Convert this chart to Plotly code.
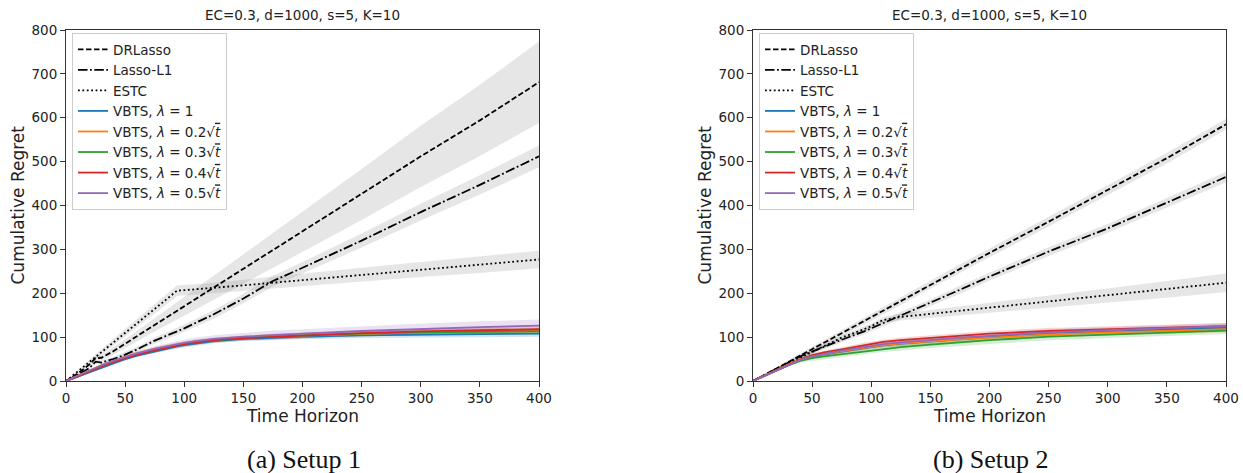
import plotly.graph_objects as go

# ---------------- data ----------------
T = [0, 10, 20, 25, 30, 40, 50, 60, 75, 94, 100, 110, 125, 150, 175, 200, 250, 300, 350, 400]

# Setup 1
DR1 = [0, 17, 38, 52, 53, 68, 85, 102, 128, 160, 170, 187, 213, 256, 298, 340, 425, 512, 594, 681]
DR1_hw = [0, 2, 4, 5, 6, 8, 10, 12, 15, 20, 22, 25, 28, 34, 40, 46, 58, 70, 81, 93]
LASSO1 = [0, 14, 30, 44, 42, 50, 60, 72, 92, 113, 120, 133, 152, 188, 228, 258, 320, 385, 447, 512]
LASSO1_hw = [0, 2, 3, 4, 4, 5, 6, 6, 7, 8, 9, 9, 10, 11, 12, 13, 16, 19, 22, 25]
ESTC1 = [0, 22, 44, 55, 66, 88, 110, 132, 165, 206, 207, 209, 212, 218, 224, 230, 242, 254, 265, 277]
ESTC1_hw = [0, 3, 5, 6, 7, 8, 9, 10, 11, 12, 12, 12, 12, 13, 14, 14, 16, 17, 19, 20]
VB1_1 = [0, 10, 21, 26, 31, 41, 50, 58, 68, 79, 82, 86, 91, 96, 99, 101, 104, 106, 107, 108]
VB1_2 = [0, 12, 25, 31, 36, 46, 55, 63, 73, 83, 86, 90, 94, 99, 102, 104, 108, 111, 113, 114]
VB1_3 = [0, 11, 23, 29, 34, 44, 53, 61, 71, 82, 85, 89, 93, 98, 101, 104, 108, 111, 112, 113]
VB1_4 = [0, 10, 22, 28, 33, 43, 52, 60, 70, 81, 84, 88, 93, 98, 101, 103, 109, 113, 116, 118]
VB1_5 = [0, 12, 25, 31, 36, 46, 55, 63, 73, 84, 87, 91, 96, 101, 105, 108, 114, 119, 123, 126]
VB1_hw = [0, 1, 2, 2, 3, 3, 4, 4, 5, 5, 5, 5, 5, 5, 6, 6, 6, 6, 7, 7]
VB1_5_hw = [0, 1, 2, 3, 3, 4, 5, 5, 6, 7, 7, 8, 8, 9, 10, 10, 11, 12, 13, 14]

# Setup 2
DR2 = [0, 14, 28, 36, 43, 58, 72, 87, 109, 137, 146, 160, 182, 220, 256, 292, 363, 435, 508, 585]
DR2_hw = [0, 2, 3, 3, 4, 5, 6, 6, 7, 8, 8, 8, 9, 9, 10, 10, 11, 11, 12, 12]
LASSO2 = [0, 14, 28, 35, 42, 56, 67, 78, 94, 113, 120, 131, 150, 178, 208, 238, 295, 348, 406, 465]
LASSO2_hw = [0, 2, 3, 3, 4, 4, 5, 5, 6, 7, 7, 7, 8, 8, 9, 9, 10, 10, 11, 12]
ESTC2 = [0, 13, 27, 33, 40, 53, 66, 79, 99, 118, 125, 139, 146, 153, 160, 167, 181, 195, 209, 224]
ESTC2_hw = [0, 1, 2, 3, 3, 4, 4, 5, 5, 6, 6, 7, 8, 9, 10, 11, 14, 16, 19, 21]
VB2_1 = [0, 12, 25, 31, 37, 48, 55, 61, 67, 75, 78, 81, 85, 90, 95, 100, 108, 113, 117, 121]
VB2_2 = [0, 13, 26, 32, 38, 50, 57, 62, 68, 76, 78, 82, 86, 91, 95, 99, 106, 111, 115, 118]
VB2_3 = [0, 12, 24, 30, 36, 46, 52, 56, 61, 68, 70, 73, 77, 83, 88, 93, 101, 106, 111, 115]
VB2_4 = [0, 12, 25, 31, 37, 49, 59, 65, 72, 82, 85, 89, 93, 98, 103, 108, 114, 118, 122, 125]
VB2_5 = [0, 12, 25, 31, 37, 48, 56, 62, 69, 78, 80, 84, 88, 94, 99, 103, 111, 116, 121, 125]
VB2_hw = [0, 1, 2, 2, 3, 3, 4, 4, 5, 5, 5, 5, 6, 6, 6, 6, 7, 7, 7, 7]
VB2_3_hw = [0, 1, 2, 2, 3, 4, 5, 6, 6, 7, 7, 7, 7, 8, 8, 8, 8, 8, 8, 8]

SQRT_T = "√<span style='text-decoration:overline'><i>t</i></span>"
NAMES = ["DRLasso", "Lasso-L1", "ESTC",
         "VBTS, <i>λ</i> = 1",
         "VBTS, <i>λ</i> = 0.2" + SQRT_T,
         "VBTS, <i>λ</i> = 0.3" + SQRT_T,
         "VBTS, <i>λ</i> = 0.4" + SQRT_T,
         "VBTS, <i>λ</i> = 0.5" + SQRT_T]
X_TICKS = [0, 50, 100, 150, 200, 250, 300, 350, 400]
Y_TICKS = [0, 100, 200, 300, 400, 500, 600, 700, 800]
TITLE = "EC=0.3, d=1000, s=5, K=10"
CAPTIONS = ["(a) Setup 1", "(b) Setup 2"]

# ---------------- style ----------------
BLACK_DASH = ["5.5px,2.5px", "9.5px,2.5px,1.8px,2.5px", "1.8px,2.6px"]
COLS = ["#1f77b4", "#ff7f0e", "#2ca02c", "#d62728", "#9467bd"]
COL_FILL = ["rgba(31,119,180,0.2)", "rgba(255,127,14,0.2)", "rgba(44,160,44,0.2)",
            "rgba(214,39,40,0.2)", "rgba(148,103,189,0.2)"]
GRAY_FILL = "rgba(128,128,128,0.2)"
FONT = "DejaVu Sans"

fig = go.Figure()


def band(mean, hw, color, xa, ya):
    up = [m + h for m, h in zip(mean, hw)]
    lo = [m - h for m, h in zip(mean, hw)]
    fig.add_trace(go.Scatter(x=T + T[::-1], y=up + lo[::-1], fill="toself",
                             fillcolor=color, line=dict(width=0), mode="lines",
                             hoverinfo="skip", showlegend=False, xaxis=xa, yaxis=ya))


panels = [
    dict(xa="x", ya="y", leg="legend",
         black=[(DR1, DR1_hw), (LASSO1, LASSO1_hw), (ESTC1, ESTC1_hw)],
         vb=[(VB1_1, VB1_hw), (VB1_2, VB1_hw), (VB1_3, VB1_hw), (VB1_4, VB1_hw), (VB1_5, VB1_5_hw)]),
    dict(xa="x2", ya="y2", leg="legend2",
         black=[(DR2, DR2_hw), (LASSO2, LASSO2_hw), (ESTC2, ESTC2_hw)],
         vb=[(VB2_1, VB2_hw), (VB2_2, VB2_hw), (VB2_3, VB2_3_hw), (VB2_4, VB2_hw), (VB2_5, VB2_hw)]),
]

for p in panels:
    for (m, hw) in p["black"]:
        band(m, hw, GRAY_FILL, p["xa"], p["ya"])
    for i, (m, hw) in enumerate(p["vb"]):
        band(m, hw, COL_FILL[i], p["xa"], p["ya"])
    for i, (m, hw) in enumerate(p["black"]):
        fig.add_trace(go.Scatter(x=T, y=m, mode="lines", name=NAMES[i],
                                 line=dict(color="black", width=1.8, dash=BLACK_DASH[i]),
                                 xaxis=p["xa"], yaxis=p["ya"], legend=p["leg"]))
    for i, (m, hw) in enumerate(p["vb"]):
        fig.add_trace(go.Scatter(x=T, y=m, mode="lines", name=NAMES[3 + i],
                                 line=dict(color=COLS[i], width=1.8),
                                 xaxis=p["xa"], yaxis=p["ya"], legend=p["leg"]))

W, H = 1243, 473
X1 = (66, 539)
X2 = (753, 1226)
YT, YB = 30, 381

axis_common = dict(showline=True, mirror=True, linecolor="#333", linewidth=1,
                   ticks="outside", ticklen=5, tickcolor="#333", showgrid=False,
                   zeroline=False, automargin=False,
                   tickfont=dict(family=FONT, size=13.5, color="#222"))
legend_common = dict(xanchor="left", yanchor="top",
                     bgcolor="white", bordercolor="#cccccc", borderwidth=1,
                     font=dict(family=FONT, size=13.5, color="#222"), tracegroupgap=0)
fig.update_layout(
    width=W, height=H, margin=dict(l=0, r=0, t=0, b=0, pad=0, autoexpand=False),
    plot_bgcolor="white", paper_bgcolor="white",
    font=dict(family=FONT, color="#222"),
    xaxis=dict(domain=[X1[0] / W, X1[1] / W], range=[0, 400], tickvals=X_TICKS, anchor="y", **axis_common),
    yaxis=dict(domain=[(H - YB) / H, (H - YT) / H], range=[0, 800], tickvals=Y_TICKS, anchor="x", **axis_common),
    xaxis2=dict(domain=[X2[0] / W, X2[1] / W], range=[0, 400], tickvals=X_TICKS, anchor="y2", **axis_common),
    yaxis2=dict(domain=[(H - YB) / H, (H - YT) / H], range=[0, 800], tickvals=Y_TICKS, anchor="x2", **axis_common),
    legend=dict(x=(X1[0] + 6) / W, y=(H - YT - 3) / H, **legend_common),
    legend2=dict(x=(X2[0] + 6) / W, y=(H - YT - 3) / H, **legend_common),
    showlegend=True,
)

annos = []
for (xl, xr), cap in zip([X1, X2], CAPTIONS):
    xc = (xl + xr) / 2
    annos.append(dict(x=xc / W, y=(H - 15) / H, text=TITLE, showarrow=False,
                      xref="paper", yref="paper", xanchor="center", yanchor="middle",
                      font=dict(family=FONT, size=13.5, color="#222")))
    annos.append(dict(x=xc / W, y=(H - 416) / H, text="Time Horizon", showarrow=False,
                      xref="paper", yref="paper", xanchor="center", yanchor="middle",
                      font=dict(family=FONT, size=17, color="#222")))
    annos.append(dict(x=(xl - 49) / W, y=(H - (YT + YB) / 2) / H, text="Cumulative Regret",
                      showarrow=False, textangle=-90,
                      xref="paper", yref="paper", xanchor="center", yanchor="middle",
                      font=dict(family=FONT, size=17, color="#222")))
    annos.append(dict(x=(xc + 1) / W, y=(H - 459) / H, text=cap, showarrow=False,
                      xref="paper", yref="paper", xanchor="center", yanchor="middle",
                      font=dict(family="Liberation Serif", size=26, color="#111")))
fig.update_layout(annotations=annos)

fig.write_html("out.html", config={"displayModeBar": False},
               post_script="document.body.style.margin='0';document.body.style.padding='0';")
